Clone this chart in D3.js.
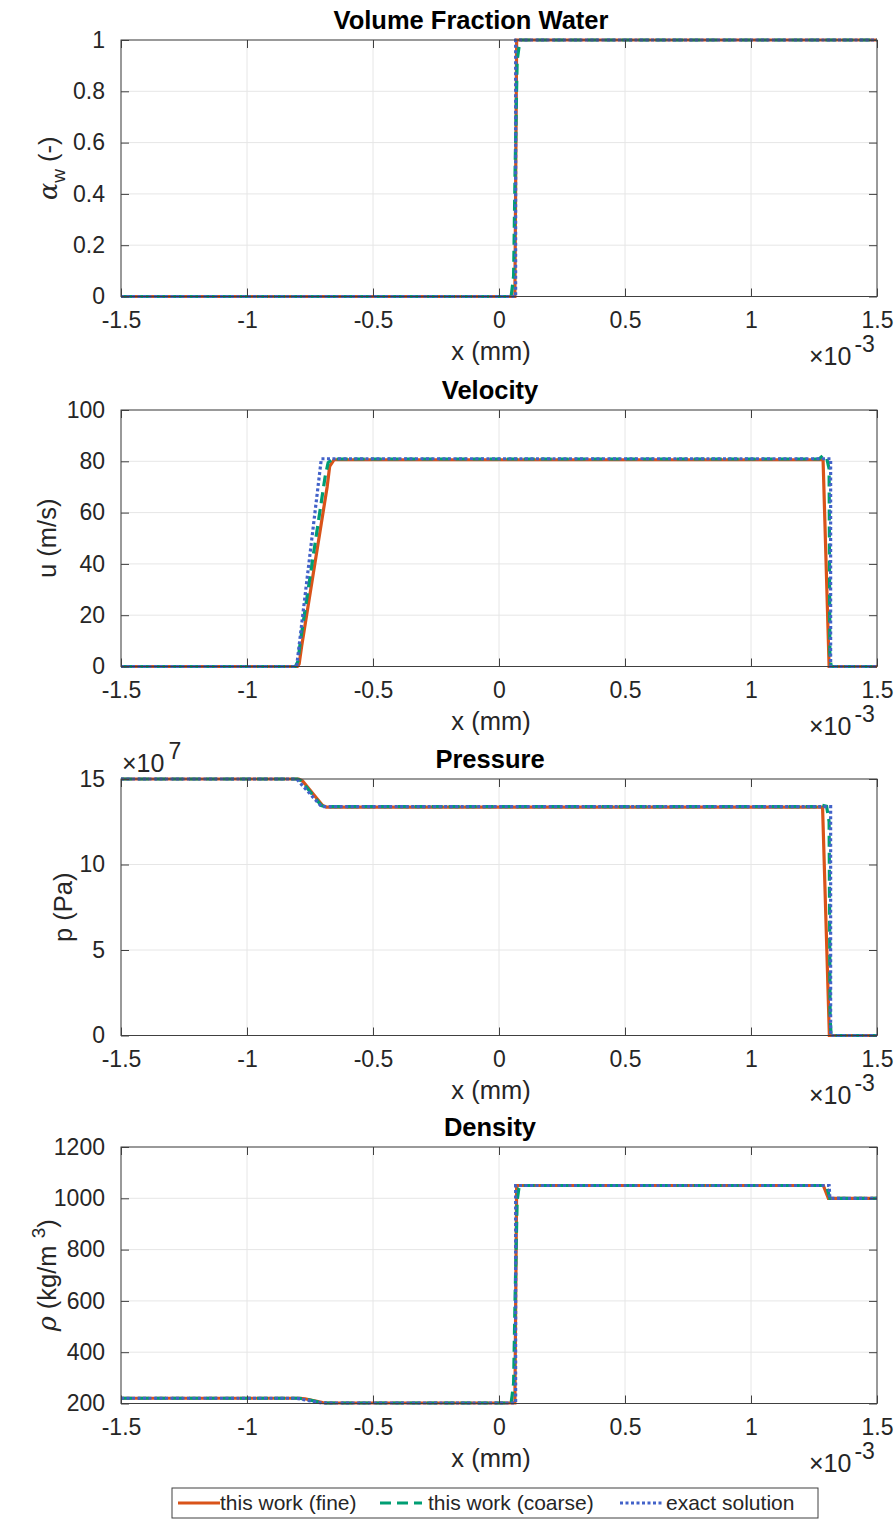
<!DOCTYPE html>
<meta charset="utf-8">
<head>
    <title>Riemann problem</title>
</head>
<style>
    body { margin: 0; background: #fff; }
    text { font-family: "Liberation Sans", Arial, sans-serif; fill: #262626; }
    .tick text { font-size: 23px; }
    .grid line { stroke: #e6e6e6; stroke-width: 1; }
    .frame { fill: none; stroke: #404040; stroke-width: 1; }
    .fine { fill: none; stroke: #D95319; stroke-width: 3.2; }
    .coarse { fill: none; stroke: #009E73; stroke-width: 3.2; stroke-dasharray: 11 6; }
    .exact { fill: none; stroke: #4262C9; stroke-width: 3.2; stroke-dasharray: 3 2.5; }
</style>
<svg width="894" height="1520"></svg>
<script src="https://d3js.org/d3.v7.min.js"></script>
<script>

    // breakpoints: x in mm (axis shows x1e-3)
    var alphaFine   = [[-1.5,0],[0.063,0],[0.07,1],[1.5,1]];
    var alphaCoarse = [[-1.5,0],[0.048,0],[0.052,0.03],[0.058,0.08],[0.064,0.5],[0.072,0.92],[0.079,0.97],[0.085,1],[1.5,1]];
    var alphaExact  = [[-1.5,0],[0.066,0],[0.066,1],[1.5,1]];

    var velFine   = [[-1.5,0],[-0.80,0],[-0.793,1],[-0.783,8],[-0.682,70],[-0.672,78],[-0.655,80.6],[1.286,80.6],[1.31,0],[1.5,0]];
    var velCoarse = [[-1.5,0],[-0.808,0],[-0.798,2],[-0.788,10],[-0.69,74],[-0.678,79.5],[-0.66,80.9],[1.27,80.9],[1.285,82.2],[1.30,81.5],[1.31,77],[1.313,5],[1.318,0],[1.5,0]];
    var velExact  = [[-1.5,0],[-0.803,0],[-0.705,81],[1.316,81],[1.316,0],[1.5,0]];

    var presFine   = [[-1.5,15],[-0.795,15],[-0.78,14.9],[-0.70,13.45],[-0.685,13.36],[1.284,13.36],[1.311,0],[1.5,0]];
    var presCoarse = [[-1.5,15],[-0.80,15],[-0.785,14.9],[-0.705,13.45],[-0.69,13.38],[1.26,13.38],[1.28,13.47],[1.30,13.4],[1.31,12.5],[1.314,1],[1.318,0],[1.5,0]];
    var presExact  = [[-1.5,15],[-0.803,15],[-0.704,13.38],[1.316,13.38],[1.316,0],[1.5,0]];

    var rhoFine   = [[-1.5,220.5],[-0.79,220.5],[-0.77,218.5],[-0.70,203.5],[-0.68,202],[0.063,202],[0.07,1050],[1.287,1050],[1.307,1000],[1.5,1000]];
    var rhoCoarse = [[-1.5,220.5],[-0.795,220.5],[-0.775,218.5],[-0.705,203.5],[-0.685,202],[0.048,202],[0.052,230],[0.058,280],[0.064,620],[0.072,990],[0.079,1040],[0.085,1050],[1.29,1050],[1.30,1048],[1.313,1000],[1.5,1000]];
    var rhoExact  = [[-1.5,220.5],[-0.803,220.5],[-0.704,202],[0.066,202],[0.066,1050],[1.31,1050],[1.313,1000],[1.5,1000]];

    var xTicks = [-1.5, -1, -0.5, 0, 0.5, 1, 1.5];

    var panels = [
        {title: "Volume Fraction Water", titleX: 471, top: 40, domain: [0, 1], ticks: [0, 0.2, 0.4, 0.6, 0.8, 1],
         series: [alphaFine, alphaCoarse, alphaExact], label: "alpha", labelX: 57},
        {title: "Velocity", titleX: 490, top: 410, domain: [0, 100], ticks: [0, 20, 40, 60, 80, 100],
         series: [velFine, velCoarse, velExact], label: "u (m/s)", labelX: 56},
        {title: "Pressure", titleX: 490, top: 779, domain: [0, 15], ticks: [0, 5, 10, 15],
         series: [presFine, presCoarse, presExact], label: "p (Pa)", labelX: 72, expo: "7"},
        {title: "Density", titleX: 490, top: 1147, domain: [200, 1200], ticks: [200, 400, 600, 800, 1000, 1200],
         series: [rhoFine, rhoCoarse, rhoExact], label: "rho", labelX: 56}
    ];

    var svg = d3.select("svg"),
        left = 121, right = 877, h = 256.5,
        classes = ["fine", "coarse", "exact"];

    var x = d3.scaleLinear().domain([-1.5, 1.5]).range([left, right]);

    panels.forEach(function(p) {
        var y = d3.scaleLinear().domain(p.domain).range([p.top + h, p.top]);
        var g = svg.append("g");

        // grid
        var grid = g.append("g").attr("class", "grid");
        grid.selectAll(".gx").data(xTicks).enter().append("line")
            .attr("x1", function(d) { return x(d); }).attr("x2", function(d) { return x(d); })
            .attr("y1", p.top).attr("y2", p.top + h);
        grid.selectAll(".gy").data(p.ticks).enter().append("line")
            .attr("x1", left).attr("x2", right)
            .attr("y1", function(d) { return y(d); }).attr("y2", function(d) { return y(d); });

        // lines
        var line = d3.line().x(function(d) { return x(d[0]); }).y(function(d) { return y(d[1]); });
        p.series.forEach(function(s, i) {
            g.append("path").attr("class", classes[i]).attr("d", line(s));
        });

        // axes (ticks inside, box all round)
        var fmt = function(d) { return String(d); };
        g.append("g").attr("transform", "translate(0," + (p.top + h) + ")")
            .call(d3.axisBottom(x).tickValues(xTicks).tickSizeInner(-8).tickSizeOuter(0).tickPadding(15).tickFormat(fmt));
        g.append("g").attr("transform", "translate(0," + p.top + ")")
            .call(d3.axisTop(x).tickValues(xTicks).tickSizeInner(-8).tickSizeOuter(0).tickFormat(""));
        g.append("g").attr("transform", "translate(" + left + ",0)")
            .call(d3.axisLeft(y).tickValues(p.ticks).tickSizeInner(-8).tickSizeOuter(0).tickPadding(16).tickFormat(fmt));
        g.append("g").attr("transform", "translate(" + right + ",0)")
            .call(d3.axisRight(y).tickValues(p.ticks).tickSizeInner(-8).tickSizeOuter(0).tickFormat(""));
        g.selectAll(".domain").remove();
        g.selectAll(".tick line").attr("stroke", "#404040");
        g.selectAll(".tick text").attr("fill", "#262626");
        g.append("rect").attr("class", "frame")
            .attr("x", left).attr("y", p.top).attr("width", right - left).attr("height", h);

        // title
        g.append("text").attr("x", p.titleX).attr("y", p.top - 11)
            .attr("text-anchor", "middle").style("font-size", "25.5px").style("font-weight", "bold")
            .style("fill", "#000").text(p.title);

        // x label and multiplier
        g.append("text").attr("x", 491).attr("y", p.top + h + 63)
            .attr("text-anchor", "middle").style("font-size", "25.5px").text("x (mm)");
        var m = g.append("text").attr("x", 809).attr("y", p.top + h + 68).style("font-size", "25px");
        m.append("tspan").text("\u00d710");
        m.append("tspan").attr("dx", 3).attr("dy", -13).style("font-size", "23px").text("-3");

        if (p.expo) {
            var e = g.append("text").attr("x", 122).attr("y", p.top - 7).style("font-size", "25px");
            e.append("tspan").text("\u00d710");
            e.append("tspan").attr("dx", 4).attr("dy", -13).style("font-size", "23px").text(p.expo);
        }

        // y label
        var yl = g.append("text")
            .attr("transform", "translate(" + p.labelX + "," + (p.top + h / 2) + ") rotate(-90)")
            .attr("text-anchor", "middle").style("font-size", "25.5px");
        if (p.label === "alpha") {
            yl.append("tspan").style("font-family", "DejaVu Serif").style("font-style", "italic").text("\u03b1");
            yl.append("tspan").attr("dy", 8).style("font-size", "19px").text("w");
            yl.append("tspan").attr("dy", -8).text(" (-)");
        } else if (p.label === "rho") {
            yl.append("tspan").style("font-family", "DejaVu Serif").style("font-style", "italic").text("\u03c1");
            yl.append("tspan").text(" (kg/m ");
            yl.append("tspan").attr("dy", -11).style("font-size", "19px").text("3");
            yl.append("tspan").attr("dy", 11).text(")");
        } else {
            yl.text(p.label);
        }
    });

    // legend
    var names = ["this work (fine)", "this work (coarse)", "exact solution"],
        legX = [178, 380, 620],
        textX = [220, 428, 666];
    var leg = svg.append("g");
    leg.append("rect").attr("x", 172).attr("y", 1488).attr("width", 646).attr("height", 30)
        .attr("fill", "#fff").attr("stroke", "#404040");
    names.forEach(function(n, i) {
        leg.append("line").attr("class", classes[i])
            .attr("x1", legX[i]).attr("x2", legX[i] + 42).attr("y1", 1503).attr("y2", 1503);
        leg.append("text").attr("x", textX[i]).attr("y", 1510)
            .style("font-size", "21px").text(n);
    });

</script>
